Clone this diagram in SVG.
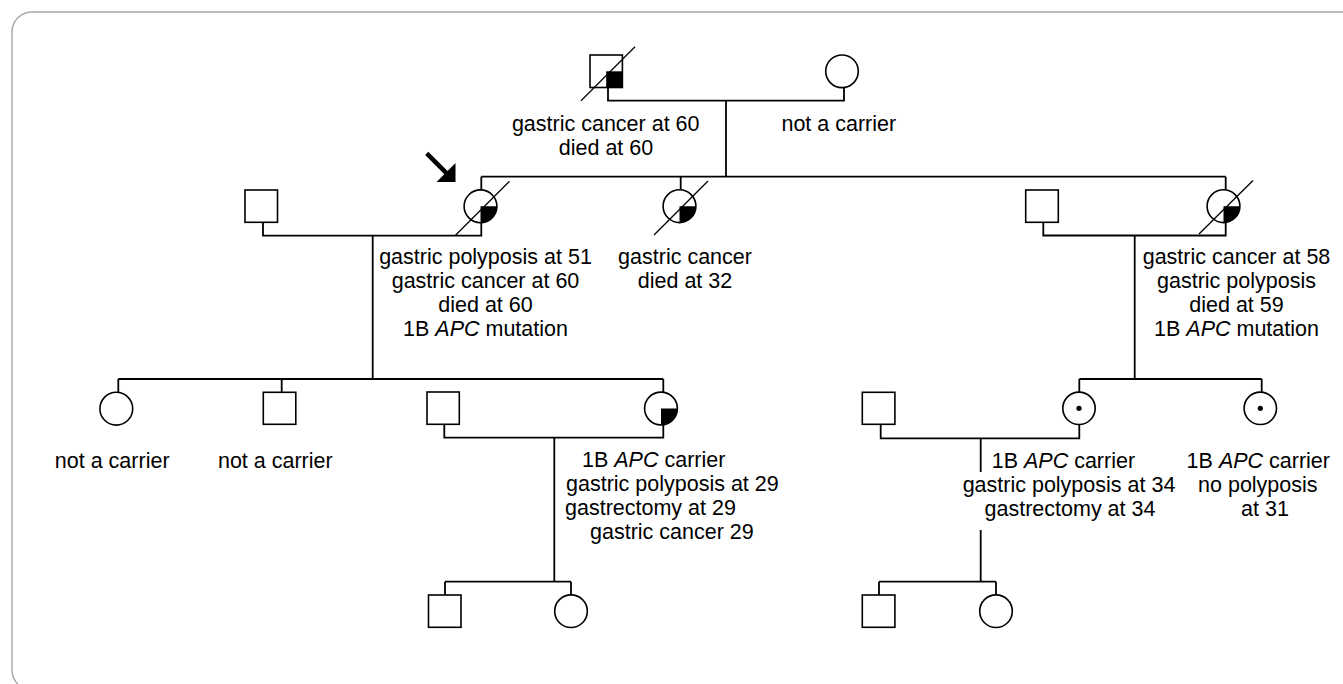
<svg xmlns="http://www.w3.org/2000/svg" width="1343" height="684" viewBox="0 0 1343 684">
<style>
.sym{fill:#fff;stroke:#000;stroke-width:1.6}
.fill{fill:#000;stroke:none}
.dead{stroke:#000;stroke-width:1.3}
.con{fill:none;stroke:#000;stroke-width:1.8}
text{font-family:"Liberation Sans",Arial,sans-serif;font-size:21.5px;fill:#000;text-anchor:middle}
text.st{text-anchor:start}
.it{font-style:italic}
</style>
<rect x="12" y="12" width="1400" height="678" rx="20" ry="20" fill="#fff" stroke="#a6a6a6" stroke-width="1.4"/>

<g id="connectors" class="con">
<path d="M608 87.5V100.7H844V87.7"/>
<path d="M726 100.7V176.7"/>
<path d="M481.3 176.7H1225.7"/>
<path d="M481.3 176.7V190M680.7 176.7V190M1225.7 176.7V190"/>
<path d="M263 222.3V235.7H481.3V222.7"/>
<path d="M372.7 235.7V379"/>
<path d="M118.3 379H663.3"/>
<path d="M118.3 379V392.3M281.7 379V392.3M663.3 379V392"/>
<path d="M1043.3 222.3V235.5H1225.7V222.3"/>
<path d="M1134.7 235.5V379"/>
<path d="M1079.3 379H1261.7"/>
<path d="M1079.3 379V392.3M1261.7 379V392.3"/>
<path d="M444.3 424.3V437.7H663.3V425"/>
<path d="M554.3 437.7V581.7"/>
<path d="M445 581.7H571"/>
<path d="M445 581.7V595M571 581.7V595"/>
<path d="M880.7 424.3V438.3H1079.3V424.3"/>
<path d="M980.7 438.3V472M980.7 530V581.7"/>
<path d="M879 581.7H996"/>
<path d="M879 581.7V595M996 581.7V595"/>
</g>

<g id="arrow">
<line x1="426.7" y1="153.3" x2="448" y2="174.6" stroke="#000" stroke-width="4.5"/>
<polygon points="455.5,182 455.5,163 436.5,182" fill="#000"/>
</g>

<g id="I-1">
<rect class="sym" x="590" y="55" width="32.4" height="32.5"/>
<rect class="fill" x="606.2" y="71.3" width="16.2" height="16.2"/>
<line class="dead" x1="581" y1="100.7" x2="635" y2="46.7"/>
<text x="605.7" y="130.5">gastric cancer at 60</text>
<text x="606" y="154.5">died at 60</text>
</g>

<g id="I-2">
<circle class="sym" cx="842" cy="71.3" r="16.3"/>
<text x="838.8" y="130.5">not a carrier</text>
</g>

<g id="II-1">
<rect class="sym" x="245" y="190" width="32.5" height="32.3"/>
</g>

<g id="II-2">
<circle class="sym" cx="480.5" cy="206.3" r="16.4"/>
<path class="fill" d="M480.5 206.3H496.9A16.4 16.4 0 0 1 480.5 222.7Z"/>
<line class="dead" x1="455.5" y1="235.3" x2="509.5" y2="181.3"/>
<text x="485.5" y="264">gastric polyposis at 51</text>
<text x="485.5" y="288">gastric cancer at 60</text>
<text x="485.5" y="312">died at 60</text>
<text x="485.5" y="336">1B <tspan class="it">APC</tspan> mutation</text>
</g>

<g id="II-3">
<circle class="sym" cx="679.5" cy="206.2" r="16.4"/>
<path class="fill" d="M679.5 206.2H695.9A16.4 16.4 0 0 1 679.5 222.6Z"/>
<line class="dead" x1="654" y1="235" x2="708" y2="181"/>
<text x="685" y="264">gastric cancer</text>
<text x="685" y="288">died at 32</text>
</g>

<g id="II-4">
<rect class="sym" x="1025.7" y="190" width="32.6" height="32.3"/>
</g>

<g id="II-5">
<circle class="sym" cx="1223.5" cy="206.2" r="16.4"/>
<path class="fill" d="M1223.5 206.2H1239.9A16.4 16.4 0 0 1 1223.5 222.6Z"/>
<line class="dead" x1="1199" y1="234" x2="1253" y2="180.5"/>
<text x="1236.5" y="264">gastric cancer at 58</text>
<text x="1236.5" y="288">gastric polyposis</text>
<text x="1236.5" y="312">died at 59</text>
<text x="1236.5" y="336">1B <tspan class="it">APC</tspan> mutation</text>
</g>

<g id="III-1">
<circle class="sym" cx="116.3" cy="408.7" r="16.4"/>
<text x="112.2" y="467.5">not a carrier</text>
</g>

<g id="III-2">
<rect class="sym" x="263.3" y="392.3" width="32.5" height="32"/>
<text x="275.3" y="467.5">not a carrier</text>
</g>

<g id="III-3">
<rect class="sym" x="427" y="392" width="32.3" height="32.3"/>
</g>

<g id="III-4">
<circle class="sym" cx="661" cy="408.5" r="16.4"/>
<path class="fill" d="M661 408.5H677.4A16.4 16.4 0 0 1 661 424.9Z"/>
<text class="st" x="582" y="467">1B <tspan class="it">APC</tspan> carrier</text>
<text class="st" x="566" y="491">gastric polyposis at 29</text>
<text class="st" x="565" y="515">gastrectomy at 29</text>
<text class="st" x="590" y="539">gastric cancer 29</text>
</g>

<g id="III-5">
<rect class="sym" x="862.3" y="392.3" width="32.6" height="32"/>
</g>

<g id="III-6">
<circle class="sym" cx="1079" cy="408.3" r="16.2"/>
<circle class="fill" cx="1079" cy="408.3" r="2.6"/>
<text x="1063.4" y="467.5">1B <tspan class="it">APC</tspan> carrier</text>
<text x="1069" y="491.5">gastric polyposis at 34</text>
<text x="1070" y="515.5">gastrectomy at 34</text>
</g>

<g id="III-7">
<circle class="sym" cx="1260.3" cy="408.3" r="16.2"/>
<circle class="fill" cx="1260.3" cy="408.3" r="2.6"/>
<text x="1258.3" y="467.5">1B <tspan class="it">APC</tspan> carrier</text>
<text x="1257.8" y="491.5">no polyposis</text>
<text x="1265" y="515.5">at 31</text>
</g>

<g id="IV-1">
<rect class="sym" x="428.5" y="595" width="32.5" height="32.3"/>
</g>

<g id="IV-2">
<circle class="sym" cx="571" cy="611.2" r="16.3"/>
</g>

<g id="IV-3">
<rect class="sym" x="862.3" y="595" width="32.6" height="32.3"/>
</g>

<g id="IV-4">
<circle class="sym" cx="996" cy="611.2" r="16.3"/>
</g>
</svg>
